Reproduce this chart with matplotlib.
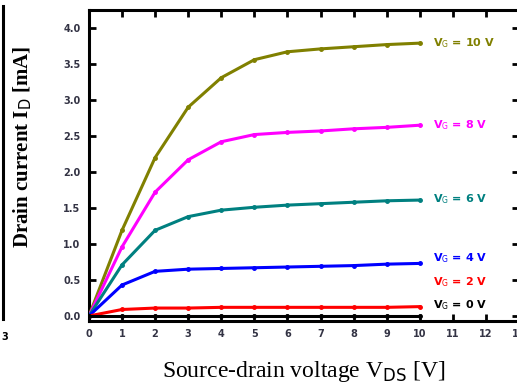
import matplotlib
matplotlib.use("Agg")
import matplotlib.pyplot as plt
from matplotlib.lines import Line2D

# source-drain voltage steps [V]
vds = [0, 1, 2, 3, 4, 5, 6, 7, 8, 9, 10]

# drain current [mA] for each gate voltage
id_vg10 = [0.0, 1.19, 2.20, 2.90, 3.31, 3.56, 3.67, 3.71, 3.74, 3.77, 3.79]
id_vg8 = [0.0, 0.96, 1.72, 2.17, 2.42, 2.52, 2.55, 2.57, 2.60, 2.62, 2.65]
id_vg6 = [0.0, 0.71, 1.19, 1.38, 1.47, 1.51, 1.54, 1.56, 1.58, 1.60, 1.61]
id_vg4 = [0.0, 0.43, 0.62, 0.65, 0.66, 0.67, 0.68, 0.69, 0.70, 0.72, 0.73]
id_vg2 = [0.0, 0.09, 0.11, 0.11, 0.12, 0.12, 0.12, 0.12, 0.12, 0.12, 0.13]
id_vg0 = [0.0, 0.0, 0.0, 0.0, 0.0, 0.0, 0.0, 0.0, 0.0, 0.0, 0.0]

series = [
    (id_vg10, "#808000", "10"),
    (id_vg8, "#ff00ff", "8"),
    (id_vg6, "#008080", "6"),
    (id_vg4, "#0000ff", "4"),
    (id_vg2, "#ff0000", "2"),
    (id_vg0, "#000000", "0"),
]
label_y = [3.79, 2.65, 1.62, 0.80, 0.47, 0.15]

fig = plt.figure(figsize=(5.17, 3.87), dpi=100)
ax = fig.add_axes([0.172, 0.1705, 0.832, 0.8036])

for (cur, col, vg), ly in zip(series, label_y):
    ax.plot(vds, cur, color=col, lw=2.2, marker="o", ms=2.5, zorder=3)
    ax.text(10.4, ly, r"V$_{\rm G}$ = " + vg + " V", color=col, fontsize=8,
            fontweight="bold", va="center", ha="left")

ax.set_xlim(0, 13)
ax.set_ylim(-0.07, 4.25)
ax.set_xticks(range(0, 14))
ax.set_yticks([0, 0.5, 1.0, 1.5, 2.0, 2.5, 3.0, 3.5, 4.0])
ax.set_yticklabels(["0.0", "0.5", "1.0", "1.5", "2.0", "2.5", "3.0", "3.5", "4.0"])
ax.tick_params(direction="in", length=5, width=2, top=True, right=True,
               labelsize=7, pad=6)
for lab in ax.get_xticklabels() + ax.get_yticklabels():
    lab.set_fontweight("bold")
    lab.set_color("#333344")
for sp in ax.spines.values():
    sp.set_linewidth(2.2)

ax.set_xlabel(r"Source-drain voltage V$_{\rm DS}$ [V]", family="Liberation Serif",
              fontsize=17, labelpad=14)
ax.set_ylabel(r"Drain current I$_{\rm D}$ [mA]", family="Liberation Serif",
              fontsize=15, fontweight="bold")
ax.yaxis.set_label_coords(-0.128, 0.56)

# edge of the neighbouring panel on the left
fig.add_artist(Line2D([0.006, 0.006], [0.175, 0.985], color="black", lw=2.2,
                      transform=fig.transFigure))
fig.text(0.01, 0.13, "3", fontsize=7, fontweight="bold", ha="center", va="center")

fig.savefig("out.png", dpi=100)
